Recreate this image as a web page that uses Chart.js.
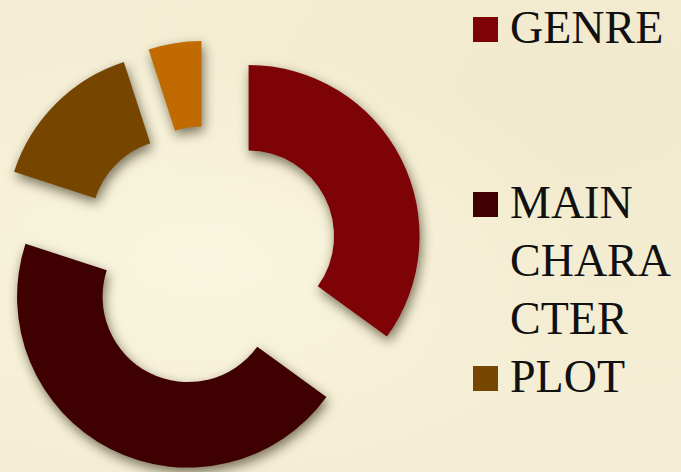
<!DOCTYPE html>
<html lang="en">
<head>
    <meta charset="UTF-8">
    <title>Story Elements Doughnut</title>
    <script src="https://cdn.jsdelivr.net/npm/chart.js"></script>
    <style>
        html, body { margin: 0; padding: 0; }
        body {
            width: 681px; height: 472px; overflow: hidden; position: relative;
            background-color: #f4eed4;
            background-image:
                radial-gradient(ellipse at 30% 55%, rgba(255,252,232,0.5), rgba(255,252,232,0) 60%),
                radial-gradient(ellipse at 85% 20%, rgba(238,228,196,0.45), rgba(238,228,196,0) 55%);
        }
        .wrap { position: absolute; left: 0; top: 0; width: 460px; height: 472px; }
        #legend { position: absolute; left: 0; top: 0; font-family: "Liberation Serif", "DejaVu Serif", serif; color: #111; }
        .item { position: absolute; left: 510px; width: 168px; font-size: 46px; line-height: 58px; overflow-wrap: anywhere; }
        .box { position: absolute; left: -37px; top: 18.5px; width: 25px; height: 25px; }
    </style>
</head>
<body>
    <div class="wrap"><canvas id="myChart"></canvas></div>
    <div id="legend"></div>

    <script>
        // data (share of the ring, percent)
        const labels = ['GENRE', 'MAIN CHARACTER', 'PLOT', ''];
        const shares = [35, 45, 15, 5];
        const colors = ['#7d0307', '#3e0000', '#764600', '#c06a00'];

        const EXPLODE = 45; // px every slice is pushed out along its middle angle

        // chart.js' own "offset" also grows the radius of narrow/wide slices,
        // so push the slices out ourselves with a plain translate
        const explodePlugin = {
            id: 'explode',
            afterUpdate(chart) {
                chart.getDatasetMeta(0).data.forEach(el => {
                    if (el._exploded) return;
                    el._exploded = true;
                    const baseDraw = el.draw;
                    el.draw = function (c) {
                        const mid = (this.startAngle + this.endAngle) / 2;
                        c.save();
                        c.translate(Math.cos(mid) * EXPLODE, Math.sin(mid) * EXPLODE);
                        baseDraw.call(this, c);
                        c.restore();
                    };
                });
            },
            beforeDatasetsDraw(chart) {
                const c = chart.ctx;
                c.save();
                c.shadowColor = 'rgba(40, 30, 10, 0.6)';
                c.shadowBlur = 12;
                c.shadowOffsetX = 2;
                c.shadowOffsetY = 5;
            },
            afterDatasetsDraw(chart) {
                chart.ctx.restore();
            }
        };

        const ctx = document.getElementById('myChart').getContext('2d');
        const myChart = new Chart(ctx, {
            type: 'doughnut',
            data: {
                labels: labels,
                datasets: [{
                    data: shares,
                    backgroundColor: colors,
                    borderWidth: 0,
                    clip: false
                }]
            },
            options: {
                responsive: true,
                maintainAspectRatio: false,
                animation: false,
                events: [],
                radius: 171,
                cutout: '50%',
                layout: { padding: { top: 41, right: 43 } },
                plugins: {
                    legend: { display: false },
                    tooltip: { enabled: false }
                }
            },
            plugins: [explodePlugin]
        });

        // legend on the right, built from the same labels/colours
        const legendTops = [-1.5, 173.5, 347.5];
        let html = '';
        labels.forEach((lab, i) => {
            if (!lab) return;
            html += `<div class="item" style="top:${legendTops[i]}px"><span class="box" style="background:${colors[i]}"></span>${lab}</div>`;
        });
        document.getElementById('legend').innerHTML = html;
    </script>
</body>
</html>
